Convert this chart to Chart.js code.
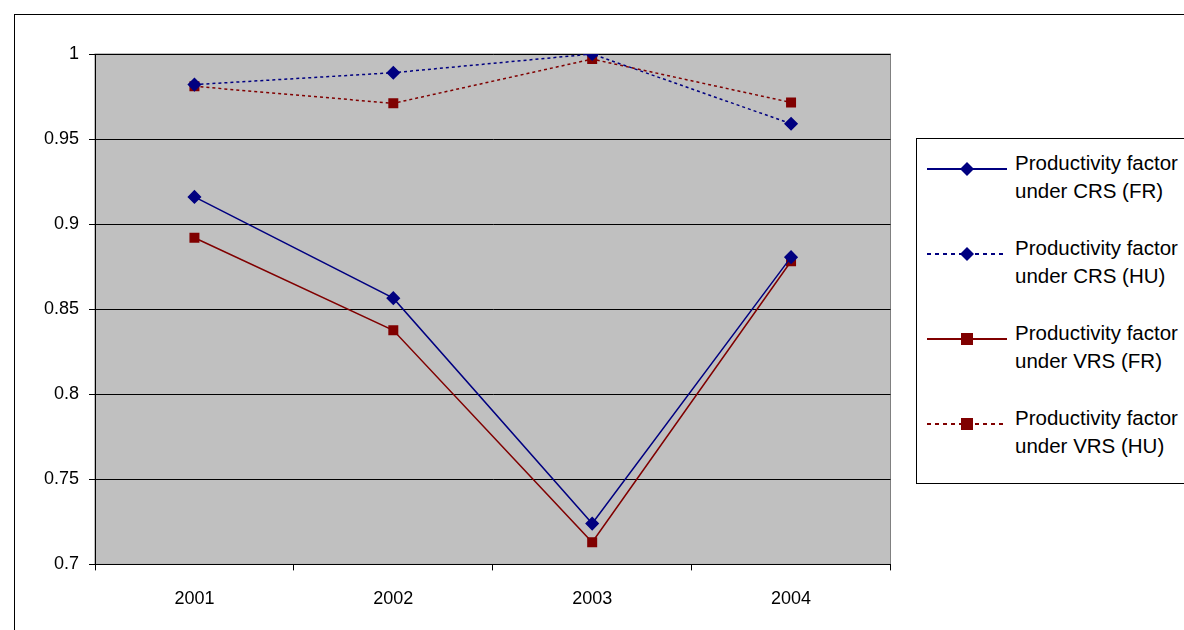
<!DOCTYPE html>
<html><head><script src="https://cdn.jsdelivr.net/npm/chart.js"></script>
<style>
body{margin:0;width:1184px;height:630px;overflow:hidden;background:#fff;font-family:"Liberation Sans",Arial,sans-serif;position:relative}
#frame{position:absolute;left:14px;top:14px;width:1200px;height:640px;border:1px solid #000}
#wrap{position:absolute;left:15px;top:15px;width:883px;height:615px}
#legend{position:absolute;left:916px;top:138px;width:300px;height:344px;border:1px solid #000;background:#fff}
.item{position:absolute;left:0;height:60px;width:300px}
.item svg{position:absolute;left:10px;top:8px}
.item span{position:absolute;left:98px;top:-4px;font-size:20.5px;line-height:28px;color:#000;white-space:nowrap}
</style></head><body>
<div id="frame"></div>
<div id="wrap"><canvas id="c"></canvas></div>
<div id="legend"></div>
<script>
const years=["2001","2002","2003","2004"];
const crsFR=[0.916,0.8565,0.724,0.8806];
const crsHU=[0.982,0.989,1.0,0.959];
const vrsFR=[0.892,0.8376,0.713,0.8782];
const vrsHU=[0.981,0.971,0.997,0.9715];
const names=["Productivity factor under CRS (FR)","Productivity factor under CRS (HU)","Productivity factor under VRS (FR)","Productivity factor under VRS (HU)"];
const yTicks=[0.7,0.75,0.8,0.85,0.9,0.95,1];
const navy="#000080",red="#800000";
const ds=[
 {label:names[0],data:crsFR,borderColor:navy,backgroundColor:navy,pointStyle:'rectRot',pointRadius:6,borderWidth:1.5},
 {label:names[1],data:crsHU,borderColor:navy,backgroundColor:navy,pointStyle:'rectRot',pointRadius:6,borderWidth:1.5,borderDash:[3,3]},
 {label:names[2],data:vrsFR,borderColor:red,backgroundColor:red,pointStyle:'rect',pointRadius:6,borderWidth:1.5},
 {label:names[3],data:vrsHU,borderColor:red,backgroundColor:red,pointStyle:'rect',pointRadius:6,borderWidth:1.5,borderDash:[3,3]}
];
const bg={id:'bg',beforeDraw(ch){const a=ch.chartArea,x=ch.ctx;x.save();x.fillStyle='#c0c0c0';x.fillRect(a.left,a.top,a.right-a.left,a.bottom-a.top);x.strokeStyle='#808080';x.lineWidth=1;x.strokeRect(a.left,a.top,a.right-a.left,a.bottom-a.top);x.restore();}};
new Chart(document.getElementById('c'),{type:'line',data:{labels:years,datasets:ds},plugins:[bg],
options:{responsive:true,maintainAspectRatio:false,animation:false,
layout:{padding:{top:39,right:0,left:0,bottom:2}},
plugins:{legend:{display:false},tooltip:{enabled:false}},
scales:{
 x:{offset:true,grid:{offset:true,drawOnChartArea:false,color:'#000',tickLength:6},border:{color:'#000'},ticks:{color:'#000',font:{size:18,family:'Liberation Sans'},padding:18}},
 y:{min:0.7,max:1,afterBuildTicks(s){s.ticks=yTicks.map(v=>({value:v}));},grid:{color:'#000',tickLength:6},border:{color:'#000'},
   ticks:{color:'#000',font:{size:18,family:'Liberation Sans'},padding:10,callback:v=>String(+v.toFixed(2))},afterFit(s){s.width=80;}}
}}});
const lg=document.getElementById('legend');
names.forEach((n,i)=>{const col=i<2?navy:red;const dash=i%2?'stroke-dasharray="4,4"':'';
 const mk=i<2?`<polygon points="40,1 47,8 40,15 33,8" fill="${col}"/>`:`<rect x="34" y="2" width="12" height="12" fill="${col}"/>`;
 const d=document.createElement('div');d.className='item';d.style.top=(14+i*85)+'px';
 d.innerHTML=`<svg width="80" height="16"><line x1="0" y1="8" x2="80" y2="8" stroke="${col}" stroke-width="2" ${dash}/>${mk}</svg><span>Productivity factor<br>${n.slice(20)}</span>`;
 lg.appendChild(d);});
</script></body></html>
